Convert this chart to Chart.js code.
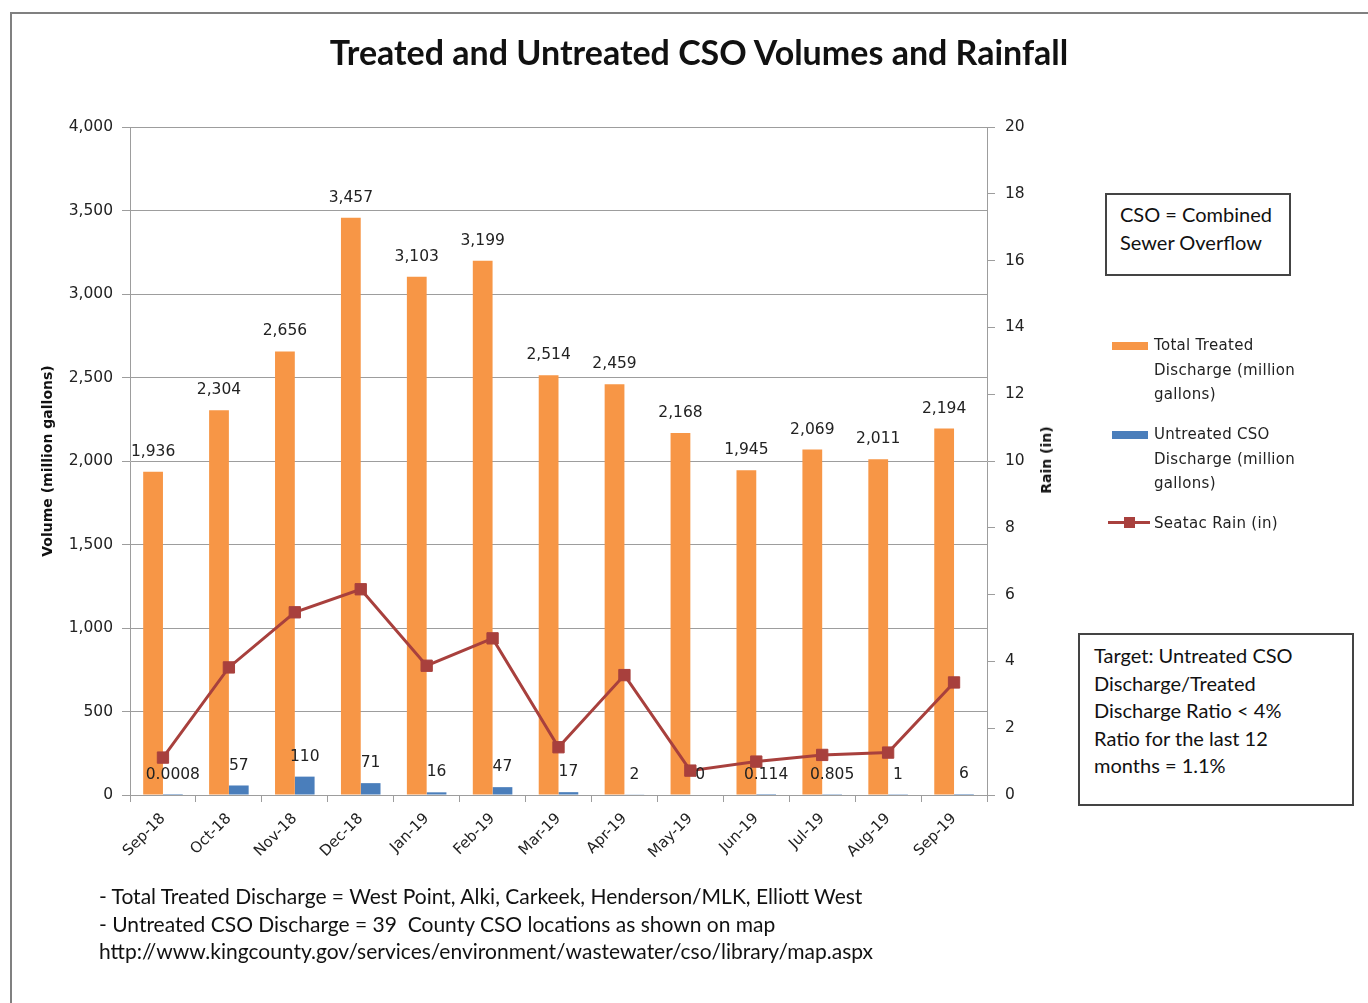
<!DOCTYPE html>
<html>
<head>
<meta charset="utf-8">
<title>Treated and Untreated CSO Volumes and Rainfall</title>
<script src="https://cdn.jsdelivr.net/npm/chart.js@4.4.1/dist/chart.umd.min.js"></script>
<style>
  html, body { margin: 0; padding: 0; background: #fff; }
  #page { position: relative; width: 1368px; height: 1003px; overflow: hidden; color: #111; font-family: Lato, "Open Sans", sans-serif; }
  #frame { position: absolute; left: 10px; top: 12px; width: 1500px; height: 1200px; border-left: 2px solid #808080; border-top: 2px solid #808080; }
  #chart { position: absolute; left: 0; top: 0; }
  #title { position: absolute; left: 699px; top: 31px; transform: translateX(-50%); white-space: nowrap; font: bold 34px Lato, sans-serif; line-height: 41px; color: #111; }
  #rainTitle { position: absolute; left: 1046px; top: 460px; transform: translate(-50%, -50%) rotate(-90deg); white-space: nowrap; font: bold 14px "DejaVu Sans", sans-serif; color: #111; }
  .box { position: absolute; border: 2px solid #444; background: #fff; font: 20px Lato, sans-serif; line-height: 27.5px; color: #111; box-sizing: border-box; }
  #csoBox { left: 1105px; top: 193px; width: 186px; height: 83px; padding: 6px 0 0 13px; }
  #targetBox { left: 1078px; top: 633px; width: 276px; height: 173px; padding: 7px 0 0 14px; }
  .legend { position: absolute; left: 1154px; font: 15px "DejaVu Sans", sans-serif; letter-spacing: 0.3px; line-height: 24.5px; color: #222; }
  .swatch { position: absolute; height: 8px; width: 36px; }
  #notes { position: absolute; left: 99px; top: 882px; font: 21px Lato, sans-serif; line-height: 27.5px; color: #111; white-space: nowrap; }
</style>
</head>
<body>
<div id="page">
  <div id="frame"></div>
  <canvas id="chart" width="1368" height="1003" style="width:1368px;height:1003px"></canvas>
  <div id="title">Treated and Untreated CSO Volumes and Rainfall</div>
  <div id="rainTitle">Rain (in)</div>
  <div class="box" id="csoBox">CSO = Combined<br>Sewer Overflow</div>

  <div class="swatch" style="left:1112px;top:342px;background:#F79646"></div>
  <div class="legend" style="top:333px">Total Treated<br>Discharge (million<br>gallons)</div>
  <div class="swatch" style="left:1112px;top:431px;background:#4A7EBB"></div>
  <div class="legend" style="top:422px">Untreated CSO<br>Discharge (million<br>gallons)</div>
  <div class="swatch" style="left:1108px;top:521px;height:3px;width:42px;background:#A8403D"></div>
  <div class="swatch" style="left:1124px;top:517px;height:11px;width:11px;background:#A8403D"></div>
  <div class="legend" style="top:511px">Seatac Rain (in)</div>

  <div class="box" id="targetBox">Target: Untreated CSO<br>Discharge/Treated<br>Discharge Ratio &lt; 4%<br>Ratio for the last 12<br>months = 1.1%</div>

  <div id="notes">- Total Treated Discharge = West Point, Alki, Carkeek, Henderson/MLK, Elliott West<br>- Untreated CSO Discharge = 39&nbsp; County CSO locations as shown on map<br>http://www.kingcounty.gov/services/environment/wastewater/cso/library/map.aspx</div>
</div>

<script>
const months = ["Sep-18", "Oct-18", "Nov-18", "Dec-18", "Jan-19", "Feb-19", "Mar-19",
  "Apr-19", "May-19", "Jun-19", "Jul-19", "Aug-19", "Sep-19"];
const treated = [1936, 2304, 2656, 3457, 3103, 3199, 2514, 2459, 2168, 1945, 2069, 2011, 2194];
const untreated = [0.0008, 57, 110, 71, 16, 47, 17, 2, 0, 0.114, 0.805, 1, 6];
const rain = [1.12, 3.82, 5.47, 6.16, 3.87, 4.69, 1.43, 3.59, 0.73, 1.00, 1.20, 1.27, 3.37];

const volumeMax = 4000;
const volumeStep = 500;
const rainMax = 20;
const rainStep = 2;

const GRID = "#9d9d9d";
const TEXT = "#222";
const tickFont = {family: "DejaVu Sans", size: 15.5};

// value labels above each bar
const barLabels = {
  id: "barLabels",
  afterDatasetsDraw(chart) {
    const ctx = chart.ctx;
    ctx.save();
    ctx.font = "15.5px 'DejaVu Sans'";
    ctx.fillStyle = TEXT;
    ctx.textAlign = "center";
    ctx.textBaseline = "middle";
    [0, 1].forEach((i) => {
      const values = chart.data.datasets[i].data;
      chart.getDatasetMeta(i).data.forEach((bar, j) => {
        const v = values[j];
        const text = i === 0 ? v.toLocaleString("en-US") : String(v);
        ctx.fillText(text, bar.x, bar.y - 20);
      });
    });
    ctx.restore();
  }
};

new Chart(document.getElementById("chart"), {
  type: "bar",
  data: {
    labels: months,
    datasets: [
      {
        label: "Total Treated Discharge (million gallons)",
        data: treated,
        backgroundColor: "#F79646",
        categoryPercentage: 0.6,
        barPercentage: 1,
        yAxisID: "y",
        order: 2
      },
      {
        label: "Untreated CSO Discharge (million gallons)",
        data: untreated,
        backgroundColor: "#4A7EBB",
        categoryPercentage: 0.6,
        barPercentage: 1,
        yAxisID: "y",
        order: 2
      },
      {
        type: "line",
        label: "Seatac Rain (in)",
        data: rain,
        borderColor: "#A8403D",
        backgroundColor: "#A8403D",
        borderWidth: 3,
        pointStyle: "rect",
        pointRadius: 8,
        pointBorderWidth: 1,
        tension: 0,
        yAxisID: "y1",
        order: 1
      }
    ]
  },
  options: {
    responsive: false,
    animation: false,
    layout: {padding: {left: 36, right: 311, top: 127, bottom: 128}},
    plugins: {
      legend: {display: false},
      tooltip: {enabled: false},
      title: {display: false}
    },
    scales: {
      x: {
        offset: true,
        grid: {display: true, drawOnChartArea: false, offset: true, tickLength: 7, color: GRID},
        border: {color: GRID},
        ticks: {minRotation: 45, maxRotation: 45, font: {family: "DejaVu Sans", size: 15}, color: TEXT, padding: 8},
        afterFit(scale) { scale.height = 80; }
      },
      y: {
        position: "left",
        min: 0,
        max: volumeMax,
        ticks: {stepSize: volumeStep, font: tickFont, color: TEXT, padding: 9},
        grid: {color: GRID, tickLength: 8},
        border: {color: GRID},
        title: {
          display: true,
          text: "Volume (million gallons)",
          font: {family: "DejaVu Sans", size: 14, weight: "bold"},
          color: "#111",
          padding: {top: 4, bottom: 4}
        },
        afterFit(scale) { scale.width = 94; }
      },
      y1: {
        position: "right",
        min: 0,
        max: rainMax,
        ticks: {stepSize: rainStep, font: tickFont, color: TEXT, padding: 10},
        grid: {drawOnChartArea: false, tickLength: 8, color: GRID},
        border: {color: GRID},
        afterFit(scale) { scale.width = 70; }
      }
    }
  },
  plugins: [barLabels]
});
</script>
</body>
</html>
